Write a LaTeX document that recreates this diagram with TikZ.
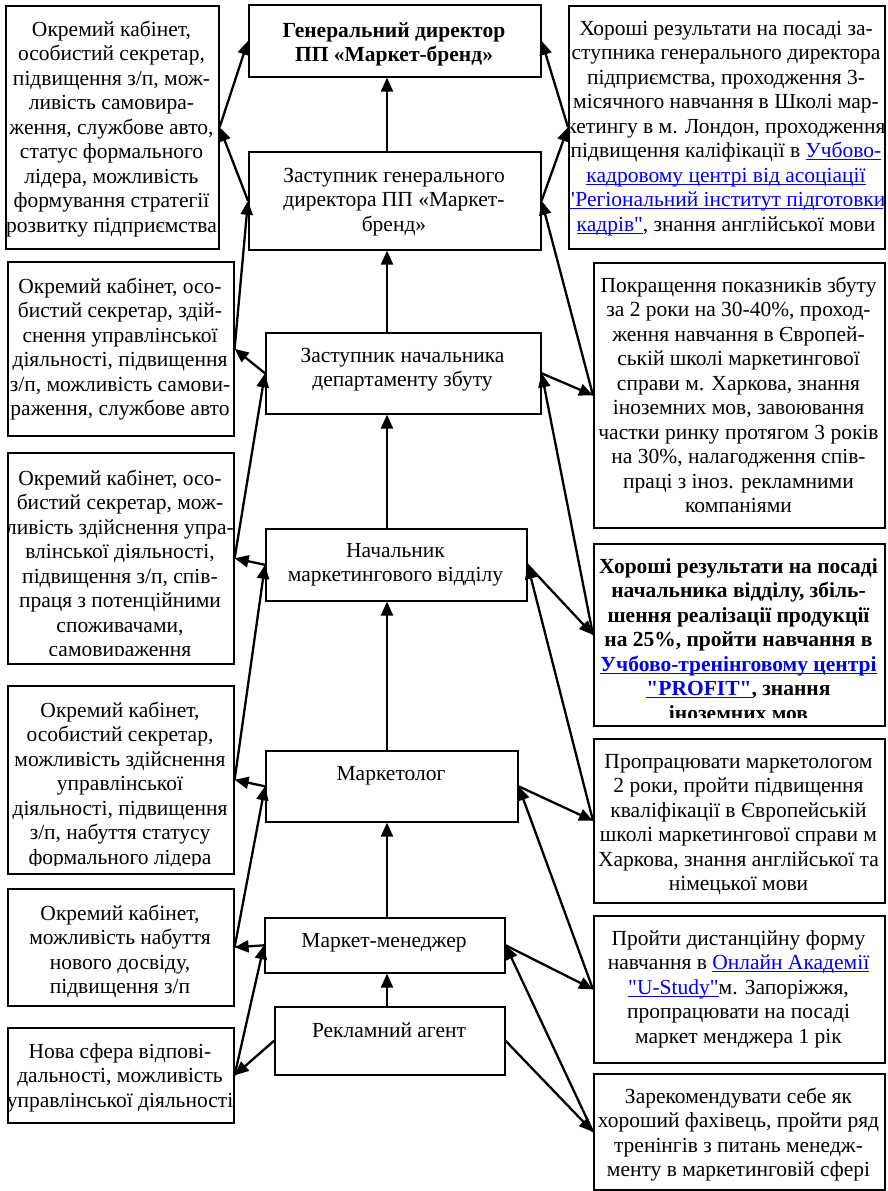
\documentclass[tikz,border=0pt]{standalone}
\usepackage{fontspec}
\setmainfont{Liberation Serif}
\newfontfamily\libserif{Liberation Serif}
\usetikzlibrary{arrows.meta,calc}
\definecolor{linkblue}{RGB}{0,0,238}
\newcommand\lnk[1]{\textcolor{linkblue}{\setbox0\hbox{#1}\rlap{\rule[-2.6pt]{\wd0}{1.2pt}}\box0}}
\newcommand\fl{\rule{0pt}{17pt}}
\tikzset{
  x=1pt, y=-1pt,
  box/.style={draw=black, line width=1.6pt, fill=none, inner sep=0pt},
  txt/.style={align=center, inner sep=0pt, font=\libserif\fontsize{21.5}{24.5}\selectfont},
  arr/.style={-{Triangle[length=14pt,width=12pt]}, line width=2.3pt, black},
}
\newcommand\tbox[7]{%
  \node[box, minimum width={#4-#2}, minimum height={#5-#3}, anchor=north west] (#1) at (#2,#3) {};
  \begin{scope}
    \clip (#2+1,#3+1) rectangle (#4-1,#5-8);
    \node[txt, anchor=north] (#1t) at ({(#2+#4)/2},#6-17) {\fl#7};
  \end{scope}}
\begin{document}
\begin{tikzpicture}
\fill[white] (0,0) rectangle (888,1191);
\useasboundingbox (0,0) rectangle (888,1191);
\coordinate (ax) at (387,0);

% central column
\tbox{GD}{248}{4}{540}{76}{37}{\bfseries Генеральний директор\\\bfseries ПП «Маркет-бренд»}
\tbox{ZGD}{248}{151}{540}{249}{182}{Заступник генерального\\директора ПП «Маркет-\\бренд»}
\tbox{ZND}{265}{332}{540}{413}{362}{Заступник начальника\\департаменту збуту}
\tbox{NMV}{265}{528}{526}{600}{557}{Начальник\\маркетингового відділу}
\tbox{MK}{265}{750}{517}{821}{780}{Маркетолог}
\tbox{MM}{264}{917}{504}{972}{947}{Маркет-менеджер}
\tbox{RA}{274}{1006}{504}{1074}{1037}{Рекламний агент}

% left column
\tbox{L1}{5}{5}{218}{248}{36}{Окремий кабінет,\\особистий секретар,\\підвищення з/п, мож-\\ливість самовира-\\ження, службове авто,\\статус формального\\лідера, можливість\\формування стратегії\\розвитку підприємства}
\tbox{L2}{7}{261}{233}{435}{293}{Окремий кабінет, осо-\\бистий секретар, здій-\\снення управлінської\\діяльності, підвищення\\з/п, можливість самови-\\раження, службове авто}
\tbox{L3}{7}{452}{233}{663}{485}{Окремий кабінет, осо-\\бистий секретар, мож-\\ливість здійснення упра-\\влінської діяльності,\\підвищення з/п, спів-\\праця з потенційними\\споживачами,\\самовираження}
\tbox{L4}{7}{685}{233}{873}{717}{Окремий кабінет,\\особистий секретар,\\можливість здійснення\\управлінської\\діяльності, підвищення\\з/п, набуття статусу\\формального лідера}
\tbox{L5}{7}{888}{233}{1005}{920}{Окремий кабінет,\\можливість набуття\\нового досвіду,\\підвищення з/п}
\tbox{L6}{7}{1027}{233}{1122}{1058}{Нова сфера відпові-\\дальності, можливість\\управлінської діяльності}

% right column
\tbox{R1}{568}{5}{884}{248}{35}{Хороші результати на посаді за-\\ступника генерального директора\\підприємства, проходження 3-\\місячного навчання в Школі мар-\\кетингу в м. Лондон, проходження\\підвищення каліфікації в \lnk{Учбово-}\\\lnk{кадровому центрі від асоціації}\\\lnk{"Регіональний інститут підготовки}\\\lnk{кадрів"}, знання англійської мови}
\tbox{R2}{593}{262}{884}{527}{292}{Покращення показників збуту\\за 2 роки на 30-40\%, проход-\\ження навчання в Європей-\\ській школі маркетингової\\справи м. Харкова, знання\\іноземних мов, завоювання\\частки ринку протягом 3 років\\на 30\%, налагодження спів-\\праці з іноз. рекламними\\компаніями}
\tbox{R3}{593}{543}{884}{725}{573}{\bfseries Хороші результати на посаді\\\bfseries начальника відділу, збіль-\\\bfseries шення реалізації продукції\\\bfseries на 25\%, пройти навчання в\\\bfseries\lnk{Учбово-тренінговому центрі}\\\bfseries\lnk{"PROFIT"}, знання\\\bfseries іноземних мов}
\tbox{R4}{593}{738}{884}{902}{768}{Пропрацювати маркетологом\\2 роки, пройти підвищення\\кваліфікації в Європейській\\школі маркетингової справи м\\Харкова, знання англійської та\\німецької мови}
\tbox{R5}{593}{915}{884}{1062}{945}{Пройти дистанційну форму\\навчання в \lnk{Онлайн Академії}\\\lnk{"U-Study"}м. Запоріжжя,\\пропрацювати на посаді\\маркет менджера 1 рік}
\tbox{R6}{593}{1073}{884}{1189}{1103}{Зарекомендувати себе як\\хороший фахівець, пройти ряд\\тренінгів з питань менедж-\\менту в маркетинговій сфері}

% vertical chain
\draw[arr] (ZGD.north -| ax) -- (GD.south -| ax);
\draw[arr] (ZND.north -| ax) -- (ZGD.south -| ax);
\draw[arr] (NMV.north -| ax) -- (ZND.south -| ax);
\draw[arr] (MK.north -| ax) -- (NMV.south -| ax);
\draw[arr] (MM.north -| ax) -- (MK.south -| ax);
\draw[arr] (RA.north -| ax) -- (MM.south -| ax);

% left connectors
\draw[arr] (L1.east) -- (GD.west);
\draw[arr] (ZGD.west) -- (L1.east);
\draw[arr] (L2.east) -- (ZGD.west);
\draw[arr] (ZND.west) -- (L2.east);
\draw[arr] (L3.east) -- (ZND.west);
\draw[arr] (NMV.west) -- (L3.east);
\draw[arr] (L4.east) -- (NMV.west);
\draw[arr] (MK.west) -- (L4.east);
\draw[arr] (L5.east) -- (MK.west);
\draw[arr] (MM.west) -- (L5.east);
\draw[arr] (L6.east) -- (MM.west);
\draw[arr] (RA.west) -- (L6.east);

% right connectors
\draw[arr] (R1.west) -- (GD.east);
\draw[arr] (ZGD.east) -- (R1.west);
\draw[arr] (R2.west) -- (ZGD.east);
\draw[arr] (ZND.east) -- (R2.west);
\draw[arr] (R3.west) -- (ZND.east);
\draw[arr] (NMV.east) -- (R3.west);
\draw[arr] (R4.west) -- (NMV.east);
\draw[arr] (MK.east) -- (R4.west);
\draw[arr] (R5.west) -- (MK.east);
\draw[arr] (MM.east) -- (R5.west);
\draw[arr] (R6.west) -- (MM.east);
\draw[arr] (RA.east) -- (R6.west);
\end{tikzpicture}
\end{document}
